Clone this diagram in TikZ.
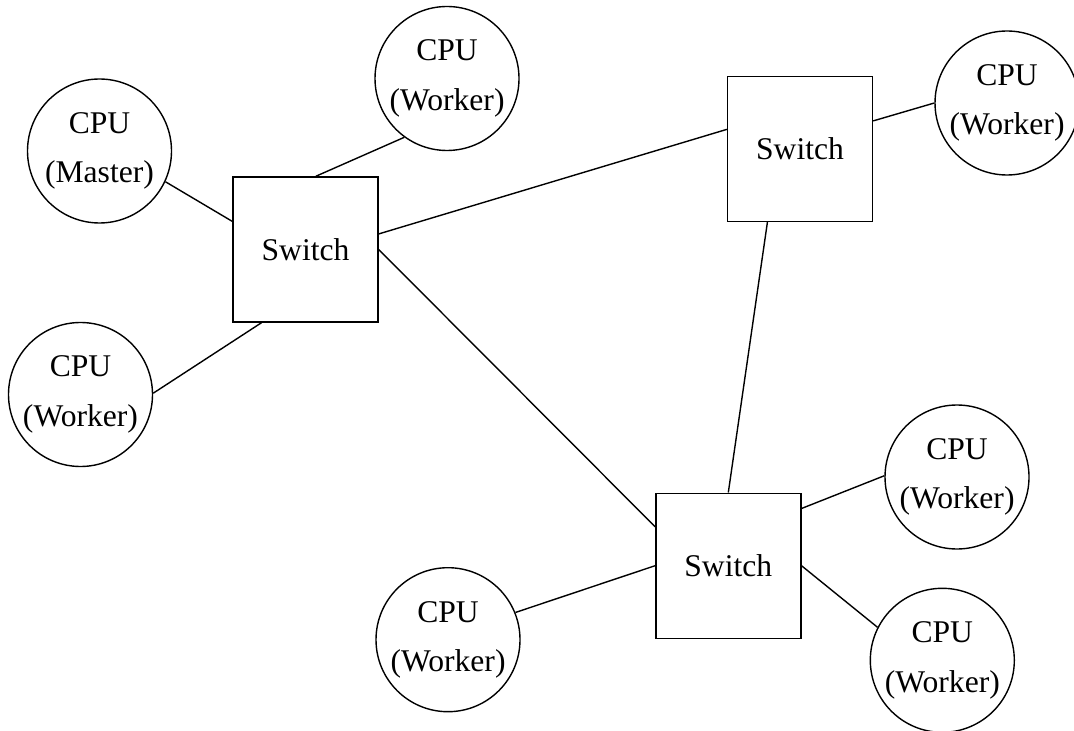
\documentclass[tikz,border=0pt]{standalone}
\usepackage{fontspec}
\setmainfont{Liberation Serif}
\begin{document}
\begin{tikzpicture}[x=0.5pt,y=-0.5pt,
  every node/.style={font=\fontsize{15.8}{24.7}\selectfont, align=center, inner sep=0pt},
  cpu/.style={draw, circle, line width=0.7pt, minimum size=72pt},
  switchbox/.style={draw, rectangle, line width=0.7pt, minimum width=72.5pt, minimum height=72.5pt},
  link/.style={line width=0.7pt}]
\useasboundingbox (0,0) rectangle (1074,731);

% switches
\node[switchbox] (sw1) at (305.5,249.5) {Switch};
\node[switchbox] (sw2) at (800,149) {Switch};
\node[switchbox] (sw3) at (728.3,565.7) {Switch};

% processors
\node[cpu] (master) at (99.5,151) {CPU\\(Master)};
\node[cpu] (wtop) at (447,78.5) {CPU\\(Worker)};
\node[cpu] (wleft) at (80.5,394.5) {CPU\\(Worker)};
\node[cpu] (wright) at (1007,103) {CPU\\(Worker)};
\node[cpu] (wbottom) at (448,639.7) {CPU\\(Worker)};
\node[cpu] (wupper) at (957,477) {CPU\\(Worker)};
\node[cpu] (wlower) at (942.3,660.3) {CPU\\(Worker)};

% links
\draw[link] (master.-25.4) -- (sw1.159.2);
\draw[link] (wtop.-126.9) -- (sw1.82.5);
\draw[link] (wleft.1.2) -- (sw1.-121);
\draw[link] (sw1.12.8) -- (sw2.165.3);
\draw[link] (sw1.-0.4) -- (sw3.152.3);
\draw[link] (sw2.21.9) -- (wright.180);
\draw[link] (sw2.-114) -- (sw3.90);
\draw[link] (sw3.180) -- (wbottom.22.2);
\draw[link] (sw3.38.1) -- (wupper.179.2);
\draw[link] (sw3.0) -- (wlower.153.7);
\end{tikzpicture}
\end{document}
